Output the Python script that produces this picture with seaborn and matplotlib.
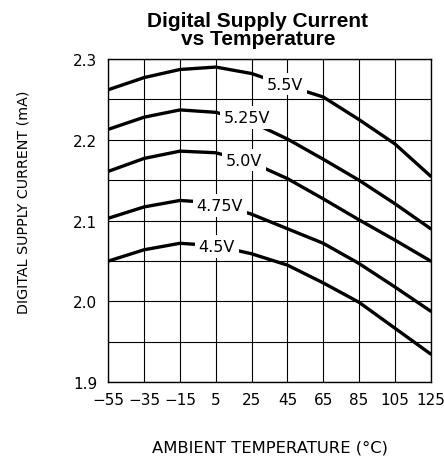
import numpy as np
import pandas as pd
import seaborn as sns
import matplotlib.pyplot as plt

# values
temps = [-55, -35, -15, 5, 25, 45, 65, 85, 105, 125]
supplies = ['5.5V', '5.25V', '5.0V', '4.75V', '4.5V']
i_55 = [2.262, 2.277, 2.287, 2.290, 2.282, 2.267, 2.253, 2.225, 2.195, 2.155]
i_525 = [2.213, 2.228, 2.237, 2.234, 2.222, 2.201, 2.176, 2.150, 2.121, 2.090]
i_50 = [2.161, 2.177, 2.186, 2.184, 2.172, 2.152, 2.127, 2.101, 2.076, 2.050]
i_475 = [2.103, 2.117, 2.125, 2.122, 2.108, 2.090, 2.072, 2.047, 2.018, 1.988]
i_45 = [2.050, 2.064, 2.072, 2.069, 2.059, 2.045, 2.023, 1.999, 1.967, 1.935]

# label positions (temperature, current)
label_t = [43.4, 22.7, 20.9, 7.2, 5.5]
label_i = [2.269, 2.228, 2.175, 2.119, 2.068]

x_ticks = temps
x_labels = ['\u221255', '\u221235', '\u221215', '5', '25', '45', '65', '85', '105', '125']
y_major = [1.9, 2.0, 2.1, 2.2, 2.3]
y_minor = [1.95, 2.05, 2.15, 2.25]

rows = []
for name, vals in zip(supplies, [i_55, i_525, i_50, i_475, i_45]):
    for t, v in zip(temps, vals):
        rows.append((name, t, v))
df = pd.DataFrame(rows, columns=['supply', 'temp', 'current'])

sns.set_style('white')
plt.rcParams['font.family'] = ['DejaVu Sans']
plt.rcParams['text.color'] = 'black'
plt.rcParams['xtick.color'] = 'black'
plt.rcParams['ytick.color'] = 'black'

fig = plt.figure(figsize=(4.44, 4.60), dpi=100)
ax = fig.add_axes([0.244, 0.1667, 0.726, 0.7029])

sns.lineplot(data=df, x='temp', y='current', hue='supply',
             palette=['black'] * len(supplies), linewidth=2.4,
             legend=False, ax=ax, zorder=3)

for name, t, v in zip(supplies, label_t, label_i):
    ax.text(t, v, name, fontsize=11.5, ha='center', va='center', zorder=5,
            color='black',
            bbox=dict(facecolor='white', edgecolor='none', pad=2.8))

ax.set_xlim(-55, 125)
ax.set_ylim(1.9, 2.3)
ax.set_xticks(x_ticks)
ax.set_xticklabels(x_labels, fontsize=11)
ax.set_yticks(y_major)
ax.set_yticklabels(['%.1f' % v for v in y_major], fontsize=11)
ax.set_yticks(y_minor, minor=True)
ax.tick_params(axis='both', which='both', length=0, colors='black')
ax.tick_params(axis='y', pad=8)
ax.tick_params(axis='x', pad=7)
ax.grid(True, which='both', color='black', linewidth=0.8)
for s in ax.spines.values():
    s.set_color('black')
    s.set_linewidth(1.0)
ax.set_xlabel('')
ax.set_ylabel('')

fig.text(0.581, 0.933, 'Digital Supply Current\nvs Temperature',
         ha='center', va='center', fontsize=15, fontweight='bold',
         family='Liberation Sans', linespacing=0.92, color='black')
fig.text(0.052, 0.561, 'DIGITAL SUPPLY CURRENT (mA)', rotation=90,
         ha='center', va='center', fontsize=10.3, color='black')
fig.text(0.608, 0.026, 'AMBIENT TEMPERATURE (\u00b0C)',
         ha='center', va='center', fontsize=11.8, color='black')

fig.savefig('out.png', dpi=100)
